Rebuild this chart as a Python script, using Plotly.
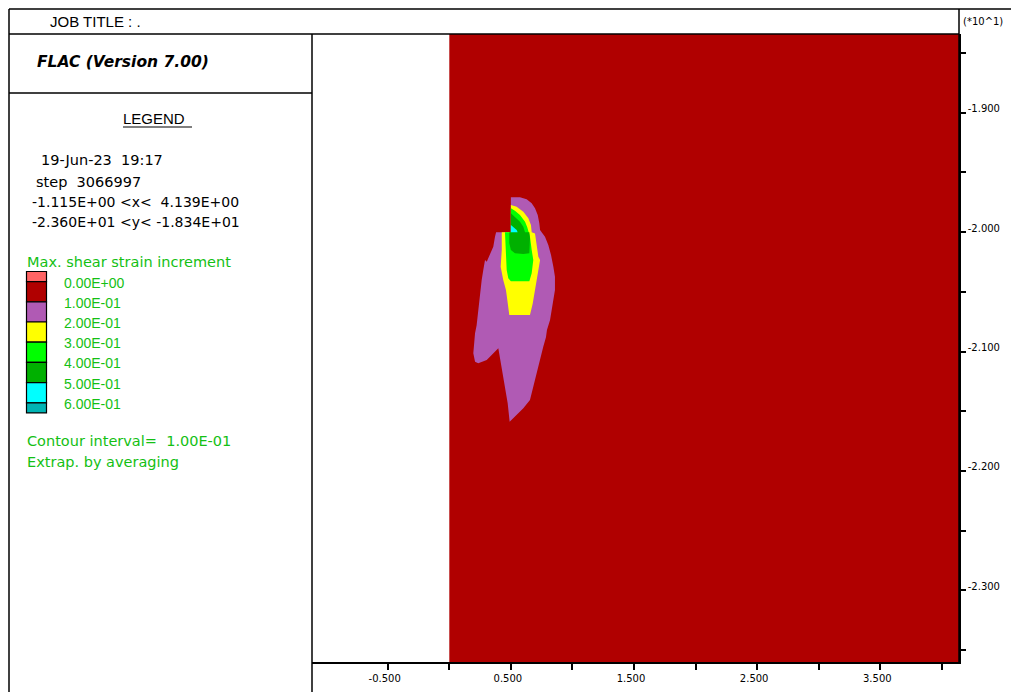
import plotly.graph_objects as go

W, H = 1011, 692

# ---- model window (metres) ----
X_RANGE = [-1.115, 4.139]
Y_RANGE = [-23.60, -18.34]

# zone region of the grid
MESH_X = [0.0, 4.139, 4.139, 0.0]
MESH_Y = [-23.60, -23.60, -18.34, -18.34]

# ---- contour levels of max. shear strain increment ----
LEVELS = [0.0, 0.1, 0.2, 0.3, 0.4, 0.5, 0.6]
BAND_COLORS = ["#ff6464", "#b00000", "#b05ab4", "#ffff00",
               "#00ff00", "#00b000", "#00ffff", "#00b4b4"]

# contour 0.1 (outer envelope)
C01_X = [0.500, 0.574, 0.628, 0.669, 0.696, 0.718, 0.731, 0.737, 0.750, 0.777,
         0.804, 0.826, 0.845, 0.858, 0.858, 0.845, 0.818, 0.793, 0.785, 0.763,
         0.737, 0.710, 0.682, 0.655, 0.601, 0.533, 0.490, 0.474, 0.452, 0.426,
         0.412, 0.398, 0.344, 0.304, 0.235, 0.209, 0.195, 0.209, 0.222, 0.235,
         0.249, 0.263, 0.276, 0.290, 0.304, 0.330, 0.357, 0.371, 0.380, 0.500]
C01_Y = [-19.708, -19.708, -19.725, -19.758, -19.800, -19.856, -19.926, -19.982, -20.000, -20.038,
         -20.107, -20.191, -20.289, -20.373, -20.484, -20.568, -20.735, -20.819, -20.880, -20.959,
         -21.070, -21.182, -21.294, -21.406, -21.475, -21.545, -21.587, -21.433, -21.294, -21.127,
         -21.029, -20.972, -21.029, -21.070, -21.098, -21.085, -21.014, -20.847, -20.780, -20.652,
         -20.484, -20.400, -20.317, -20.233, -20.247, -20.191, -20.122, -20.038, -20.000, -20.000]

# contour 0.2
C02_X = [0.500, 0.547, 0.601, 0.642, 0.663, 0.669, 0.696, 0.710, 0.723, 0.737,
         0.723, 0.710, 0.696, 0.677, 0.655, 0.487, 0.471, 0.460, 0.438, 0.426,
         0.417, 0.426, 0.426, 0.500]
C02_Y = [-19.772, -19.787, -19.828, -19.884, -19.940, -20.000, -20.010, -20.093, -20.205, -20.233,
         -20.317, -20.400, -20.484, -20.600, -20.694, -20.694, -20.568, -20.484, -20.400, -20.317,
         -20.289, -20.149, -20.000, -20.000]

# contour 0.3
C03_X = [0.500, 0.533, 0.574, 0.615, 0.633, 0.642, 0.655, 0.669, 0.682, 0.669,
         0.650, 0.500, 0.479, 0.466, 0.460, 0.452, 0.500]
C03_Y = [-19.800, -19.820, -19.856, -19.912, -19.959, -20.000, -20.038, -20.149, -20.233, -20.344,
         -20.410, -20.410, -20.386, -20.317, -20.205, -20.000, -20.000]

# contour 0.4
C04_X = [0.500, 0.533, 0.574, 0.601, 0.615, 0.650, 0.655, 0.650, 0.601, 0.533,
         0.500, 0.487, 0.487, 0.500]
C04_Y = [-19.842, -19.870, -19.912, -19.954, -20.000, -20.000, -20.050, -20.177, -20.182, -20.177,
         -20.149, -20.093, -20.000, -20.000]

# contour 0.5
C05_X = [0.500, 0.520, 0.547, 0.555, 0.500]
C05_Y = [-19.940, -19.959, -19.982, -20.000, -20.000]

CONTOURS = [(C01_X, C01_Y, BAND_COLORS[2]),
            (C02_X, C02_Y, BAND_COLORS[3]),
            (C03_X, C03_Y, BAND_COLORS[4]),
            (C04_X, C04_Y, BAND_COLORS[5]),
            (C05_X, C05_Y, BAND_COLORS[6])]

# ---- axis ticks ----
X_TICKS = [-0.5, 0.0, 0.5, 1.0, 1.5, 2.0, 2.5, 3.0, 3.5, 4.0]
X_LABELED = [-0.5, 0.5, 1.5, 2.5, 3.5]
Y_TICKS = [-18.5, -19.0, -19.5, -20.0, -20.5, -21.0, -21.5, -22.0, -22.5, -23.0, -23.5]
Y_LABELED = [-19.0, -20.0, -21.0, -22.0, -23.0]

GREEN_TEXT = "#14c014"
ARIAL = "Liberation Sans, Arial, sans-serif"
WIDE = "DejaVu Sans, sans-serif"

fig = go.Figure()

# background zones (below the first contour level)
fig.add_trace(go.Scatter(x=MESH_X, y=MESH_Y, fill="toself", mode="lines",
                         line=dict(width=0), fillcolor=BAND_COLORS[1],
                         hoverinfo="skip", showlegend=False))
for cx, cy, col in CONTOURS:
    fig.add_trace(go.Scatter(x=cx, y=cy, fill="toself", mode="lines",
                             line=dict(width=0, color=col), fillcolor=col,
                             hoverinfo="skip", showlegend=False))


def px(x):
    return x / W


def py(y):
    return 1 - y / H


x0_dom, x1_dom = 312 / W, 959 / W
y0_dom, y1_dom = 1 - 662 / H, 1 - 34 / H

fig.update_layout(
    width=W, height=H,
    margin=dict(l=0, r=0, t=0, b=0),
    paper_bgcolor="white", plot_bgcolor="white",
    showlegend=False,
    xaxis=dict(domain=[x0_dom, x1_dom], range=X_RANGE, showgrid=False, zeroline=False,
               showline=True, linecolor="black", linewidth=1.5,
               ticks="outside", ticklen=6, tickcolor="black", tickwidth=1.5,
               tickvals=X_TICKS,
               ticktext=[f"{v:.3f}" if v in X_LABELED else "" for v in X_TICKS],
               tickfont=dict(family=WIDE, size=10, color="black"),
               ticklabelshift=-3, fixedrange=True),
    yaxis=dict(domain=[y0_dom, y1_dom], range=Y_RANGE, side="right", showgrid=False,
               zeroline=False, showline=True, linecolor="black", linewidth=1.5,
               ticks="outside", ticklen=5, tickcolor="black", tickwidth=1.5,
               tickvals=Y_TICKS,
               ticktext=[f"{v / 10:.3f}" if v in Y_LABELED else "" for v in Y_TICKS],
               tickfont=dict(family=WIDE, size=10, color="black"),
               ticklabelshift=-4, fixedrange=True),
)

shapes = []


def hline(x0, x1, y, w=1.5):
    shapes.append(dict(type="line", xref="paper", yref="paper",
                       x0=px(x0), x1=px(x1), y0=py(y), y1=py(y),
                       line=dict(color="black", width=w)))


def vline(x, y0, y1, w=1.5):
    shapes.append(dict(type="line", xref="paper", yref="paper",
                       x0=px(x), x1=px(x), y0=py(y0), y1=py(y1),
                       line=dict(color="black", width=w)))


# frame of the plot sheet
hline(9, W, 9)
vline(9, 9, H)
hline(9, 959, 34)
vline(959, 9, 662)
vline(312, 34, H)
hline(9, 312, 93)
hline(123, 192, 127, 1.2)

# legend colour swatches: half-height caps at both ends
sw_x0, sw_x1 = 26.5, 46.5
sw_top, sw_h = 271.5, 20.2
edges = [sw_top, sw_top + sw_h / 2]
for i in range(len(LEVELS) - 1):
    edges.append(edges[-1] + sw_h)
edges.append(edges[-1] + sw_h / 2)
for i, col in enumerate(BAND_COLORS):
    shapes.append(dict(type="rect", xref="paper", yref="paper",
                       x0=px(sw_x0), x1=px(sw_x1), y0=py(edges[i]), y1=py(edges[i + 1]),
                       fillcolor=col, line=dict(color="black", width=1.2)))

fig.update_layout(shapes=shapes)

annotations = []


def text(x, y, s, size=14, color="black", anchor="left", family=WIDE,
         bold=False, italic=False):
    if bold:
        s = f"<b>{s}</b>"
    if italic:
        s = f"<i>{s}</i>"
    annotations.append(dict(x=px(x), y=py(y), xref="paper", yref="paper", text=s,
                            showarrow=False, xanchor=anchor, yanchor="middle",
                            font=dict(family=family, size=size, color=color)))


text(48, 22, "JOB TITLE : .", size=15, family=ARIAL)
text(961, 22, "(*10^1)", size=10)
text(35, 62, "FLAC (Version 7.00)", size=15.5, bold=True, italic=True)
text(154, 118, "LEGEND", size=15, anchor="center", family=ARIAL)
text(39, 160, "19-Jun-23  19:17", size=14.5)
text(34, 182, "step  3066997", size=14.5)
text(30, 202, "-1.115E+00 &lt;x&lt;  4.139E+00", size=14)
text(30, 222, "-2.360E+01 &lt;y&lt; -1.834E+01", size=14)
text(25, 262, "Max. shear strain increment", size=14.5, color=GREEN_TEXT)
for i, lev in enumerate(LEVELS):
    text(62, edges[i + 1] + 1, f"{lev:.2E}", size=14, color=GREEN_TEXT, family=ARIAL)
text(25, 441, "Contour interval=  1.00E-01", size=14.5, color=GREEN_TEXT)
text(25, 462, "Extrap. by averaging", size=14.5, color=GREEN_TEXT)

fig.update_layout(annotations=annotations)

fig.write_html("out.html")
